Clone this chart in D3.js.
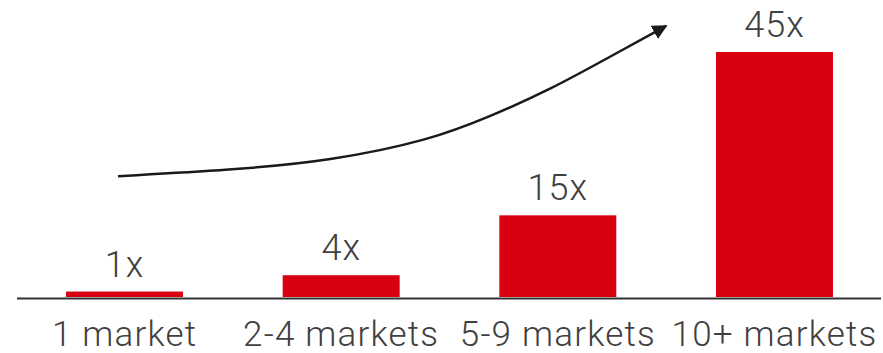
<!DOCTYPE html>
<html>
<head>
<meta charset="utf-8">
<script src="https://cdn.jsdelivr.net/npm/d3@7"></script>
<style>
  body { margin: 0; background: #fff; }
  text { font-family: Roboto, 'Noto Sans', sans-serif; font-weight: 300; fill: #404040; }
</style>
</head>
<body>
<script>
const categories = ['1 market', '2-4 markets', '5-9 markets', '10+ markets']
const values = [1, 4, 15, 45]
const valueLabels = ['1x', '4x', '15x', '45x']
// trend arrow, in (category index, value) units
const arrowPts = [[-0.03, 22.2], [0.49, 23.3], [0.95, 25.0], [1.41, 28.8], [1.69, 33.2], [1.96, 38.0], [2.24, 44.1], [2.5, 49.8]]

const W = 883, H = 353
const svg = d3.select('body').append('svg').attr('width', W).attr('height', H)

const x = d3.scaleBand().domain(categories).range([16, 883]).paddingInner(0.46).paddingOuter(0.231)
const y = d3.scaleLinear().domain([0, 45]).range([297, 52])
const xi = d3.scaleLinear().domain([0, 3]).range([x(categories[0]) + x.bandwidth() / 2, x(categories[3]) + x.bandwidth() / 2])

svg.selectAll('rect.bar').data(values).join('rect')
  .attr('class', 'bar')
  .attr('x', (d, i) => x(categories[i]))
  .attr('width', x.bandwidth())
  .attr('y', d => y(d))
  .attr('height', d => y(0) - y(d))
  .attr('fill', '#d90012')

// baseline
svg.append('line')
  .attr('x1', 17).attr('x2', 881)
  .attr('y1', y(0) + 1.5).attr('y2', y(0) + 1.5)
  .attr('stroke', '#333').attr('stroke-width', 2)

svg.selectAll('text.val').data(values).join('text')
  .attr('class', 'val')
  .attr('x', (d, i) => x(categories[i]) + x.bandwidth() / 2)
  .attr('y', d => y(d) - 15)
  .attr('text-anchor', 'middle')
  .attr('font-size', 36)
  .attr('letter-spacing', 1)
  .text((d, i) => valueLabels[i])

svg.selectAll('text.cat').data(categories).join('text')
  .attr('class', 'cat')
  .attr('x', d => x(d) + x.bandwidth() / 2)
  .attr('y', 346)
  .attr('text-anchor', 'middle')
  .attr('font-size', 35)
  .attr('letter-spacing', 1.2)
  .text(d => d)

svg.append('defs').append('marker')
  .attr('id', 'head')
  .attr('viewBox', '0 0 10 10')
  .attr('refX', 9).attr('refY', 5)
  .attr('markerWidth', 6).attr('markerHeight', 6)
  .attr('markerUnits', 'strokeWidth')
  .attr('orient', 'auto')
  .append('path').attr('d', 'M0,0 L10,5 L0,10 Z').attr('fill', '#1a1a1a')

const line = d3.line().x(d => xi(d[0])).y(d => y(d[1])).curve(d3.curveBasis)
svg.append('path')
  .attr('d', line(arrowPts))
  .attr('fill', 'none')
  .attr('stroke', '#1a1a1a')
  .attr('stroke-width', 2.5)
  .attr('marker-end', 'url(#head)')
</script>
</body>
</html>
